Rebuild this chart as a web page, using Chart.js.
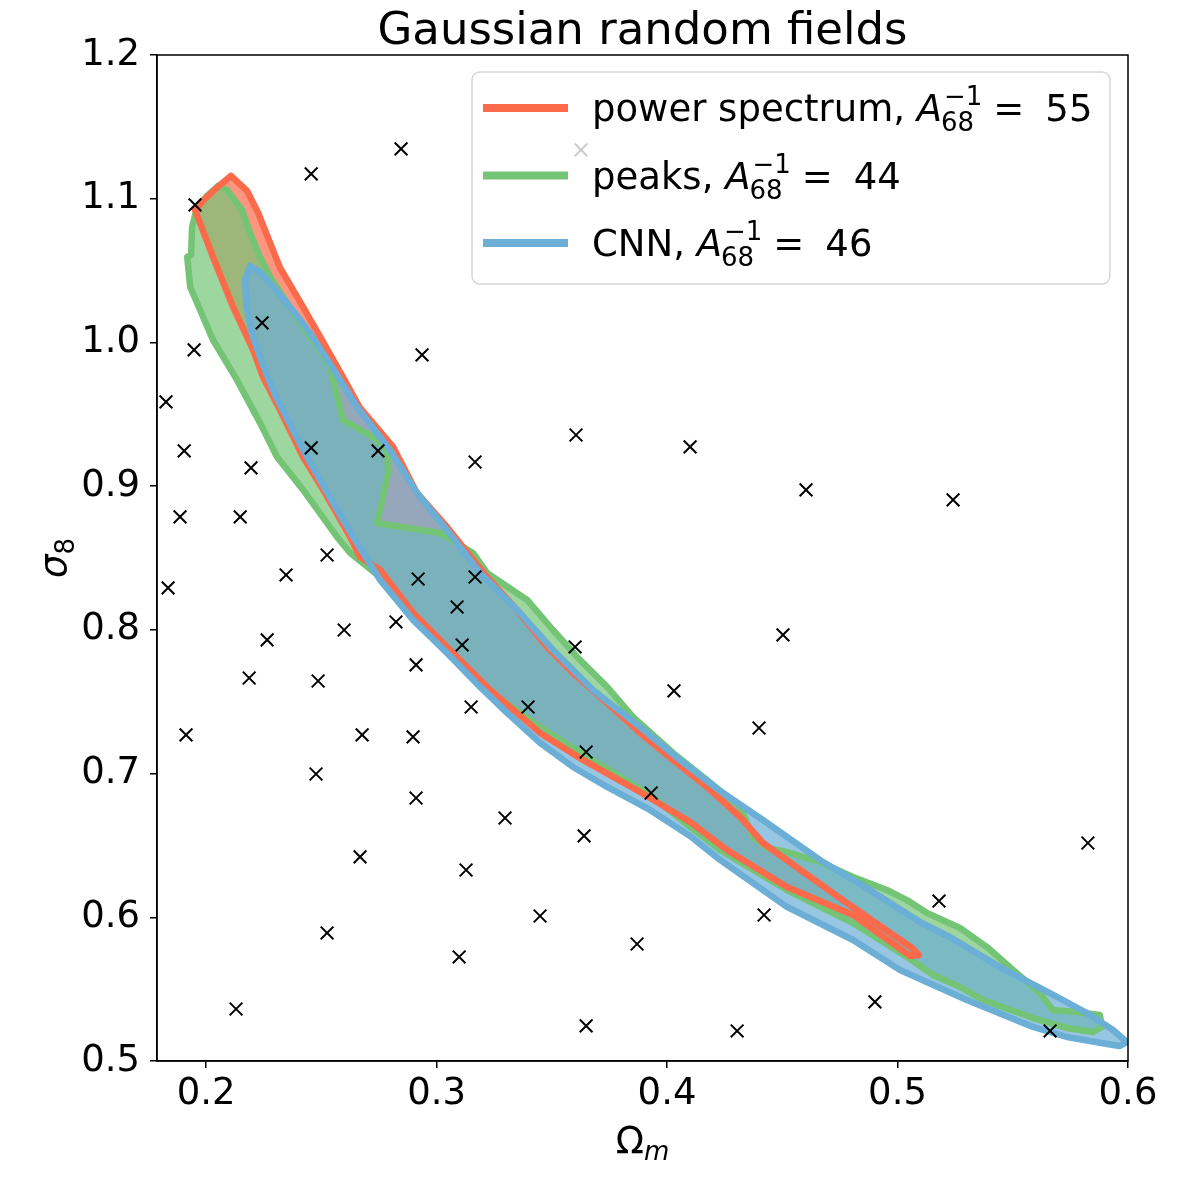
<!DOCTYPE html>
<html lang="en">
<head>
<meta charset="UTF-8">
<title>Gaussian random fields</title>
<script src="https://cdn.jsdelivr.net/npm/chart.js@4.4.1/dist/chart.umd.min.js"></script>
<style>
  html, body { margin: 0; padding: 0; background: #fff; }
  #wrap { width: 1200px; height: 1200px; }
</style>
</head>
<body>
<div id="wrap"><canvas id="myChart" width="1200" height="1200"></canvas></div>
<script>
// axis ticks
const omegaTicks = [0.2, 0.3, 0.4, 0.5, 0.6];
const sigmaTicks = [0.5, 0.6, 0.7, 0.8, 0.9, 1.0, 1.1, 1.2];

// the simulated cosmologies (black crosses)
const sampleOm = [0.2846,0.2456,0.1952,0.3627,0.2243,0.1948,0.2937,0.1826,0.1905,0.2456,0.2746,0.3605,0.4100,0.3167,0.2195,0.4603,0.5241,0.1887,0.2148,0.2347,0.2525,0.2920,0.3167,0.1835,0.3089,0.2824,0.2599,0.2265,0.3111,0.3601,0.4503,0.2187,0.2486,0.2911,0.4030,0.3150,0.3397,0.1913,0.2677,0.2898,0.4399,0.3649,0.2477,0.3931,0.2911,0.3297,0.3640,0.2668,0.3128,0.5826,0.5180,0.4421,0.3449,0.2525,0.3870,0.3098,0.4902,0.2130,0.3649,0.4304,0.5662];
const sampleS8 = [1.1347,1.1173,1.0957,1.1340,1.0136,0.9948,0.9913,0.9586,0.9245,0.9266,0.9245,0.9356,0.9273,0.9168,0.9127,0.8974,0.8904,0.8786,0.8786,0.8382,0.8521,0.8354,0.8368,0.8292,0.8159,0.8055,0.7999,0.7930,0.7895,0.7881,0.7965,0.7665,0.7644,0.7756,0.7575,0.7463,0.7463,0.7269,0.7269,0.7255,0.7317,0.7150,0.6997,0.6865,0.6830,0.6691,0.6566,0.6420,0.6329,0.6517,0.6113,0.6016,0.6009,0.5891,0.5814,0.5724,0.5411,0.5362,0.5244,0.5209,0.5209];

// 68% contours
const psOm = [0.2108,0.2178,0.2226,0.2321,0.2408,0.2495,0.2581,0.2668,0.2811,0.2915,0.3045,0.3219,0.3349,0.3479,0.3592,0.3740,0.3883,0.4026,0.4173,0.4317,0.4416,0.4750,0.5063,0.5093,0.5054,0.4807,0.4520,0.4260,0.4100,0.3883,0.3635,0.3449,0.3232,0.3045,0.2898,0.2755,0.2668,0.2625,0.2508,0.2421,0.2321,0.2247,0.2204,0.2117,0.2030,0.1952,0.2004,0.2061];
const psS8 = [1.1159,1.1054,1.0901,1.0518,1.0282,1.0038,0.9795,0.9544,0.9273,0.8953,0.8716,0.8368,0.8139,0.7881,0.7700,0.7491,0.7283,0.7095,0.6907,0.6698,0.6517,0.6134,0.5786,0.5738,0.5731,0.6016,0.6211,0.6468,0.6663,0.6872,0.7095,0.7283,0.7582,0.7881,0.8118,0.8417,0.8507,0.8647,0.8974,0.9203,0.9530,0.9760,0.9948,1.0247,1.0595,1.0922,1.1013,1.1096];

const pkOm = [0.2052,0.2091,0.2156,0.2191,0.2234,0.2278,0.2334,0.2408,0.2482,0.2538,0.2594,0.2724,0.2785,0.2790,0.2742,0.3015,0.3158,0.3219,0.3393,0.3505,0.3622,0.3740,0.3852,0.4026,0.4173,0.4317,0.4373,0.4434,0.4520,0.4663,0.4807,0.4954,0.5041,0.5128,0.5271,0.5388,0.5501,0.5618,0.5674,0.5778,0.5878,0.5887,0.5848,0.5735,0.5588,0.5371,0.5271,0.5154,0.5041,0.4807,0.4520,0.4230,0.4100,0.3926,0.3653,0.3449,0.3202,0.3045,0.2898,0.2755,0.2625,0.2568,0.2421,0.2308,0.2234,0.2134,0.2030,0.1974,0.1931,0.1918,0.1935,0.1939,0.1961,0.2004];
const pkS8 = [1.1089,1.1061,1.0922,1.0762,1.0595,1.0456,1.0317,1.0136,0.9969,0.9830,0.9461,0.9342,0.9252,0.9092,0.8744,0.8674,0.8535,0.8396,0.8208,0.7999,0.7791,0.7603,0.7394,0.7143,0.6955,0.6768,0.6559,0.6482,0.6454,0.6385,0.6280,0.6190,0.6120,0.6030,0.5926,0.5793,0.5633,0.5473,0.5355,0.5341,0.5320,0.5237,0.5202,0.5230,0.5299,0.5424,0.5515,0.5598,0.5724,0.5960,0.6190,0.6468,0.6628,0.6851,0.7116,0.7324,0.7603,0.7860,0.8090,0.8368,0.8535,0.8647,0.8974,0.9203,0.9440,0.9739,1.0017,1.0226,1.0386,1.0595,1.0609,1.0797,1.0943,1.1020];

const cnnOm = [0.2191,0.2234,0.2265,0.2351,0.2451,0.2560,0.2655,0.2798,0.2915,0.3045,0.3189,0.3362,0.3505,0.3679,0.3883,0.4056,0.4230,0.4416,0.4663,0.4880,0.5097,0.5227,0.5444,0.5661,0.5822,0.5935,0.5995,0.5965,0.5935,0.5735,0.5588,0.5301,0.5011,0.4807,0.4520,0.4230,0.4100,0.3926,0.3740,0.3592,0.3449,0.3306,0.3189,0.3045,0.2898,0.2755,0.2655,0.2551,0.2438,0.2377,0.2299,0.2247,0.2200,0.2174,0.2169];
const cnnS8 = [1.0532,1.0491,1.0435,1.0275,1.0066,0.9795,0.9551,0.9252,0.8953,0.8695,0.8396,0.8118,0.7860,0.7582,0.7324,0.7095,0.6879,0.6677,0.6399,0.6190,0.5967,0.5863,0.5654,0.5473,0.5334,0.5216,0.5132,0.5104,0.5111,0.5167,0.5237,0.5424,0.5633,0.5842,0.6072,0.6399,0.6566,0.6747,0.6907,0.7046,0.7213,0.7422,0.7603,0.7839,0.8069,0.8347,0.8605,0.8883,0.9203,0.9391,0.9635,0.9843,1.0052,1.0261,1.0435];

const seriesNames = ['power spectrum', 'peaks', 'CNN'];
const a68Inv = [55, 44, 46];
const lineColors = ['#fb6a4a', '#74c476', '#6baed6'];
const fillColors = ['rgba(251,106,74,0.7)', 'rgba(116,196,118,0.7)', 'rgba(107,174,214,0.7)'];

const FONT = '"DejaVu Sans", sans-serif';

function ring(xs, ys) {
    const pts = xs.map((x, i) => ({x: x, y: ys[i]}));
    pts.push({x: xs[0], y: ys[0]});
    return pts;
}

const contours = [ring(psOm, psS8), ring(pkOm, pkS8), ring(cnnOm, cnnS8)];

// fills go below all outlines; higher order = drawn earlier
function fillSet(i, order) {
    return {
        type: 'line', data: contours[i], order: order,
        borderWidth: 0, borderColor: 'rgba(0,0,0,0)',
        backgroundColor: fillColors[i], fill: 'shape',
        pointRadius: 0, pointHoverRadius: 0
    };
}
function lineSet(i, order) {
    return {
        type: 'line', data: contours[i], order: order,
        borderWidth: 6.5, borderColor: lineColors[i], fill: false,
        borderJoinStyle: 'round', borderCapStyle: 'round',
        pointRadius: 0, pointHoverRadius: 0
    };
}

const decorations = {
    id: 'decorations',
    afterDraw(chart) {
        const ctx = chart.ctx, a = chart.chartArea;
        ctx.save();

        // frame
        ctx.strokeStyle = '#000';
        ctx.lineWidth = 1.5;
        ctx.strokeRect(a.left, a.top, a.right - a.left, a.bottom - a.top);

        ctx.fillStyle = '#000';
        ctx.textBaseline = 'alphabetic';

        // title
        ctx.textAlign = 'center';
        ctx.font = '45px ' + FONT;
        ctx.fillText('Gaussian random fields', (a.left + a.right) / 2, a.top - 11);

        // x label: Omega_m
        ctx.textAlign = 'left';
        ctx.font = '37px ' + FONT;
        let wO = ctx.measureText('\u03A9').width;
        ctx.font = 'italic 26px ' + FONT;
        let wm = ctx.measureText('m').width;
        let lx = (a.left + a.right) / 2 - (wO + wm) / 2;
        ctx.font = '37px ' + FONT;
        ctx.fillText('\u03A9', lx, a.bottom + 92);
        ctx.font = 'italic 26px ' + FONT;
        ctx.fillText('m', lx + wO, a.bottom + 99);

        // y label: sigma_8
        ctx.save();
        ctx.translate(66, (a.top + a.bottom) / 2);
        ctx.rotate(-Math.PI / 2);
        ctx.font = 'italic 37px ' + FONT;
        let ws = ctx.measureText('\u03C3').width;
        ctx.font = '26px ' + FONT;
        let w8 = ctx.measureText('8').width;
        ctx.font = 'italic 37px ' + FONT;
        ctx.fillText('\u03C3', -(ws + w8) / 2, 0);
        ctx.font = '26px ' + FONT;
        ctx.fillText('8', -(ws + w8) / 2 + ws, 8);
        ctx.restore();

        // legend box
        const bx = a.left + 315, by = a.top + 17, bw = a.right - 18 - bx, bh = 212;
        ctx.beginPath();
        ctx.roundRect(bx, by, bw, bh, 8);
        ctx.fillStyle = 'rgba(255,255,255,0.8)';
        ctx.fill();
        ctx.strokeStyle = 'rgba(204,204,204,0.8)';
        ctx.lineWidth = 1.5;
        ctx.stroke();

        for (let i = 0; i < seriesNames.length; i++) {
            const ry = by + 36 + i * 67.5;
            ctx.strokeStyle = lineColors[i];
            ctx.lineWidth = 8;
            ctx.lineCap = 'butt';
            ctx.beginPath();
            ctx.moveTo(bx + 11, ry);
            ctx.lineTo(bx + 96, ry);
            ctx.stroke();

            ctx.fillStyle = '#000';
            const base = ry + 13;
            let tx = bx + 120;
            ctx.font = '37px ' + FONT;
            const head = seriesNames[i] + ', ';
            ctx.fillText(head, tx, base);
            tx += ctx.measureText(head).width;
            ctx.font = 'italic 37px ' + FONT;
            ctx.fillText('A', tx, base);
            tx += ctx.measureText('A').width + 2;
            ctx.font = '26px ' + FONT;
            ctx.fillText('\u22121', tx, base - 16);
            const wsup = ctx.measureText('\u22121').width;
            ctx.fillText('68', tx - 3, base + 10);
            const wsub = ctx.measureText('68').width - 3;
            tx += Math.max(wsup, wsub) + 11;
            ctx.font = '37px ' + FONT;
            ctx.fillText('=', tx, base);
            tx += ctx.measureText('=').width + 21;
            ctx.fillText(String(a68Inv[i]), tx, base);
        }
        ctx.restore();
    }
};

const axisGrid = {display: true, drawOnChartArea: false, drawTicks: true, tickLength: 7, color: '#000', lineWidth: 1.5};
const axisBorder = {display: true, color: '#000', width: 1.5};

new Chart(document.getElementById('myChart'), {
    type: 'scatter',
    data: {
        datasets: [
            fillSet(0, 9), fillSet(1, 8), fillSet(2, 7),
            lineSet(1, 5), lineSet(0, 4), lineSet(2, 3),
            {
                type: 'scatter', order: 1,
                data: sampleOm.map((x, i) => ({x: x, y: sampleS8[i]})),
                pointStyle: 'crossRot', pointRadius: 9, pointHoverRadius: 9,
                borderColor: '#000', backgroundColor: '#000', borderWidth: 2
            }
        ]
    },
    options: {
        responsive: false,
        animation: false,
        devicePixelRatio: 1,
        events: [],
        layout: {padding: {top: 55, right: 72, bottom: 0, left: 0}},
        plugins: {legend: {display: false}, tooltip: {enabled: false}},
        scales: {
            x: {
                type: 'linear', min: 0.1787, max: 0.6,
                afterBuildTicks: s => { s.ticks = omegaTicks.map(v => ({value: v})); },
                afterFit: s => { s.height = 139; },
                ticks: {color: '#000', font: {family: FONT, size: 37}, padding: 4, maxRotation: 0,
                        callback: v => Number(v).toFixed(1)},
                grid: axisGrid, border: axisBorder
            },
            y: {
                type: 'linear', min: 0.5, max: 1.2,
                afterBuildTicks: s => { s.ticks = sigmaTicks.map(v => ({value: v})); },
                afterFit: s => { s.width = 157; },
                ticks: {color: '#000', font: {family: FONT, size: 37}, padding: 10,
                        callback: v => Number(v).toFixed(1)},
                grid: axisGrid, border: axisBorder
            }
        }
    },
    plugins: [decorations]
});
</script>
</body>
</html>
